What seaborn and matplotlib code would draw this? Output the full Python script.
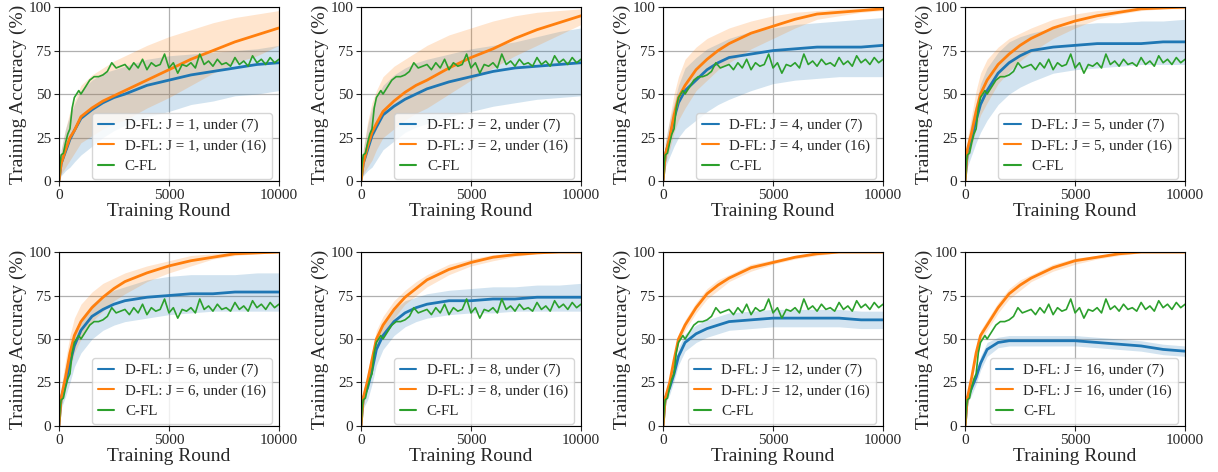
import matplotlib
matplotlib.use('Agg')
import matplotlib.pyplot as plt
import seaborn as sns
import numpy as np

# training rounds where values were read
rounds = [0, 100, 300, 500, 700, 1000, 1500, 2000, 2500, 3000, 4000, 5000, 6000, 7000, 8000, 9000, 10000]

# number of D-FL local steps J per panel
j_values = [1, 2, 4, 5, 6, 8, 12, 16]

# D-FL under (7) - mean curves
blue_mean = [
    [0, 10, 17, 24, 29, 36, 41, 45, 48, 50, 55, 58, 61, 63, 65, 67, 68],
    [0, 10, 18, 26, 31, 38, 43, 47, 50, 53, 57, 60, 63, 65, 66, 67, 68],
    [0, 15, 24, 36, 45, 52, 58, 64, 68, 71, 73, 75, 76, 77, 77, 77, 78],
    [0, 16, 25, 35, 44, 52, 62, 68, 72, 75, 77, 78, 79, 79, 79, 80, 80],
    [0, 16, 25, 36, 46, 55, 63, 67, 70, 72, 74, 75, 76, 76, 77, 77, 77],
    [0, 16, 22, 32, 44, 52, 60, 65, 68, 70, 72, 72, 73, 73, 74, 74, 74],
    [0, 16, 22, 30, 40, 48, 53, 56, 58, 60, 61, 62, 62, 62, 62, 61, 61],
    [0, 16, 22, 28, 36, 44, 48, 49, 49, 49, 49, 49, 48, 47, 46, 44, 43],
]
blue_low = [
    [0, 3, 6, 8, 11, 15, 20, 25, 29, 32, 37, 40, 44, 46, 49, 50, 52],
    [0, 3, 6, 8, 12, 18, 23, 28, 31, 33, 37, 40, 43, 45, 47, 48, 49],
    [0, 8, 14, 20, 25, 30, 35, 40, 44, 47, 52, 56, 58, 59, 60, 60, 60],
    [0, 8, 15, 22, 28, 35, 44, 50, 54, 57, 62, 64, 65, 66, 67, 67, 67],
    [0, 10, 17, 25, 34, 42, 50, 55, 58, 60, 62, 64, 65, 66, 66, 66, 66],
    [0, 10, 15, 24, 35, 44, 52, 57, 60, 62, 64, 65, 65, 66, 66, 66, 66],
    [0, 13, 18, 26, 35, 43, 48, 51, 53, 55, 56, 57, 57, 57, 57, 56, 56],
    [0, 13, 18, 24, 32, 40, 45, 46, 46, 46, 46, 46, 45, 44, 43, 41, 40],
]
blue_high = [
    [0, 18, 30, 38, 44, 52, 58, 62, 64, 66, 70, 72, 73, 74, 75, 76, 78],
    [0, 18, 32, 42, 48, 55, 61, 65, 68, 70, 73, 76, 78, 80, 83, 86, 88],
    [0, 22, 35, 45, 55, 65, 71, 76, 79, 82, 86, 88, 90, 91, 92, 93, 94],
    [0, 22, 35, 45, 56, 65, 74, 80, 83, 85, 88, 90, 91, 91, 92, 92, 93],
    [0, 22, 34, 45, 54, 62, 70, 75, 78, 80, 84, 86, 87, 87, 87, 88, 88],
    [0, 20, 29, 40, 50, 58, 67, 72, 74, 76, 78, 79, 80, 80, 81, 81, 82],
    [0, 19, 26, 34, 45, 53, 58, 61, 63, 65, 66, 67, 67, 67, 67, 66, 66],
    [0, 19, 26, 32, 40, 48, 51, 52, 52, 52, 52, 52, 51, 50, 49, 47, 46],
]

# D-FL under (16) - mean curves
orange_mean = [
    [0, 10, 18, 25, 29, 37, 42, 46, 49, 52, 58, 64, 70, 75, 80, 84, 88],
    [0, 10, 20, 28, 33, 40, 46, 51, 55, 58, 65, 71, 76, 82, 87, 91, 95],
    [0, 15, 25, 38, 48, 55, 64, 70, 75, 79, 85, 89, 93, 96, 97, 98, 99],
    [0, 18, 28, 40, 50, 58, 67, 73, 78, 82, 88, 92, 95, 97, 99, 99.5, 100],
    [0, 16, 28, 42, 52, 60, 68, 74, 79, 83, 88, 92, 95, 97, 99, 99.5, 100],
    [0, 16, 26, 38, 50, 58, 67, 74, 79, 84, 90, 94, 97, 98.5, 99.5, 100, 100],
    [0, 16, 25, 38, 50, 58, 68, 76, 81, 85, 91, 94, 97, 99, 100, 100, 100],
    [0, 16, 28, 42, 52, 58, 68, 76, 81, 85, 91, 95, 97, 99, 100, 100, 100],
]
orange_low = [
    [0, 4, 8, 12, 16, 22, 26, 30, 33, 35, 42, 48, 55, 62, 68, 72, 78],
    [0, 4, 8, 12, 18, 25, 30, 35, 39, 42, 50, 58, 65, 72, 78, 84, 90],
    [0, 10, 18, 28, 35, 42, 52, 58, 64, 68, 76, 82, 88, 93, 95, 97, 98],
    [0, 12, 20, 30, 38, 45, 56, 63, 69, 74, 82, 88, 93, 96, 98, 99, 99],
    [0, 12, 22, 32, 42, 50, 60, 66, 72, 76, 83, 88, 92, 96, 98, 99, 99.5],
    [0, 12, 21, 33, 45, 53, 62, 70, 75, 80, 87, 92, 95, 97.5, 99, 99.5, 99.5],
    [0, 14, 23, 35, 47, 55, 65, 73, 78, 83, 89, 93, 96, 98, 99.5, 99.5, 99.5],
    [0, 14, 25, 39, 49, 55, 65, 73, 78, 83, 89, 93, 96, 98, 99.5, 99.5, 99.5],
]
orange_high = [
    [0, 18, 30, 40, 46, 55, 61, 65, 69, 72, 78, 83, 87, 91, 94, 96, 98],
    [0, 18, 34, 45, 52, 60, 66, 70, 74, 78, 84, 88, 92, 95, 97, 98, 99],
    [0, 22, 36, 50, 60, 70, 77, 82, 85, 88, 92, 95, 97, 98, 99, 99.5, 100],
    [0, 24, 38, 52, 62, 70, 77, 82, 85, 88, 93, 96, 98, 99, 100, 100, 100],
    [0, 22, 38, 52, 62, 70, 77, 82, 85, 88, 92, 95, 98, 99, 100, 100, 100],
    [0, 20, 31, 43, 55, 63, 72, 78, 83, 87, 93, 96, 98.5, 99.5, 100, 100, 100],
    [0, 18, 28, 41, 53, 61, 71, 79, 84, 87, 93, 95.5, 98, 99.5, 100, 100, 100],
    [0, 18, 31, 45, 55, 61, 71, 79, 84, 87, 93, 96.5, 98, 99.5, 100, 100, 100],
]

# C-FL (same baseline in every panel)
cfl_rounds = [0, 50, 100, 200, 300, 400, 500, 600, 700, 800, 900, 1000, 1200, 1400, 1600,
              1800, 2000, 2200, 2400, 2600, 2800, 3000, 3200, 3400, 3600, 3800, 4000, 4200,
              4400, 4600, 4800, 5000, 5200, 5400, 5600, 5800, 6000, 6200, 6400, 6600, 6800,
              7000, 7200, 7400, 7600, 7800, 8000, 8200, 8400, 8600, 8800, 9000, 9200, 9400,
              9600, 9800, 10000]
cfl_acc = [0, 10, 15, 16, 22, 27, 30, 42, 48, 50, 52, 50, 54, 58, 60, 60, 61, 63, 68, 65,
           66, 67, 64, 68, 65, 70, 64, 68, 66, 67, 73, 65, 68, 62, 67, 66, 68, 65, 73, 67,
           69, 66, 70, 67, 68, 66, 71, 67, 69, 66, 72, 68, 70, 67, 71, 68, 70]

blue = '#1f77b4'
orange = '#ff7f0e'
green = '#2ca02c'

sns.set_style('ticks')
plt.rcParams['font.family'] = ['Liberation Serif', 'DejaVu Serif']
plt.rcParams['mathtext.fontset'] = 'stix'

fig, axes = plt.subplots(2, 4, figsize=(12.18, 4.72), dpi=100)
fig.subplots_adjust(left=0.0484, right=0.973, top=0.985, bottom=0.0975,
                    wspace=0.373, hspace=0.408)

for i, ax in enumerate(axes.flat):
    J = j_values[i]
    ax.fill_between(rounds, blue_low[i], blue_high[i], color=blue, alpha=0.2, lw=0)
    ax.fill_between(rounds, orange_low[i], orange_high[i], color=orange, alpha=0.2, lw=0)
    sns.lineplot(x=rounds, y=blue_mean[i], ax=ax, color=blue, lw=2.0,
                 label=f'D-FL: J = {J}, under (7)')
    sns.lineplot(x=rounds, y=orange_mean[i], ax=ax, color=orange, lw=2.0,
                 label=f'D-FL: J = {J}, under (16)')
    sns.lineplot(x=cfl_rounds, y=cfl_acc, ax=ax, color=green, lw=1.2, label='C-FL')

    ax.set_xlim(0, 10000)
    ax.set_ylim(0, 100)
    ax.set_xticks([0, 5000, 10000])
    ax.set_yticks([0, 25, 50, 75, 100])
    ax.tick_params(labelsize=11, length=3.5, width=0.8, pad=2)
    ax.grid(True, color='#b0b0b0', lw=0.9)
    for s in ax.spines.values():
        s.set_color('black')
        s.set_linewidth(0.8)
    ax.set_xlabel('Training Round', fontsize=14, labelpad=1)
    ax.set_ylabel('Training Accuracy (%)', fontsize=14, labelpad=1)

    leg = ax.legend(loc='lower right', bbox_to_anchor=(0.968, 0.012), borderaxespad=0,
                    fontsize=10.8, handlelength=1.1, handletextpad=0.7,
                    labelspacing=0.45, borderpad=0.4)
    for line in leg.get_lines():
        line.set_linewidth(1.5)

plt.savefig('out.png', dpi=100)
plt.close()
